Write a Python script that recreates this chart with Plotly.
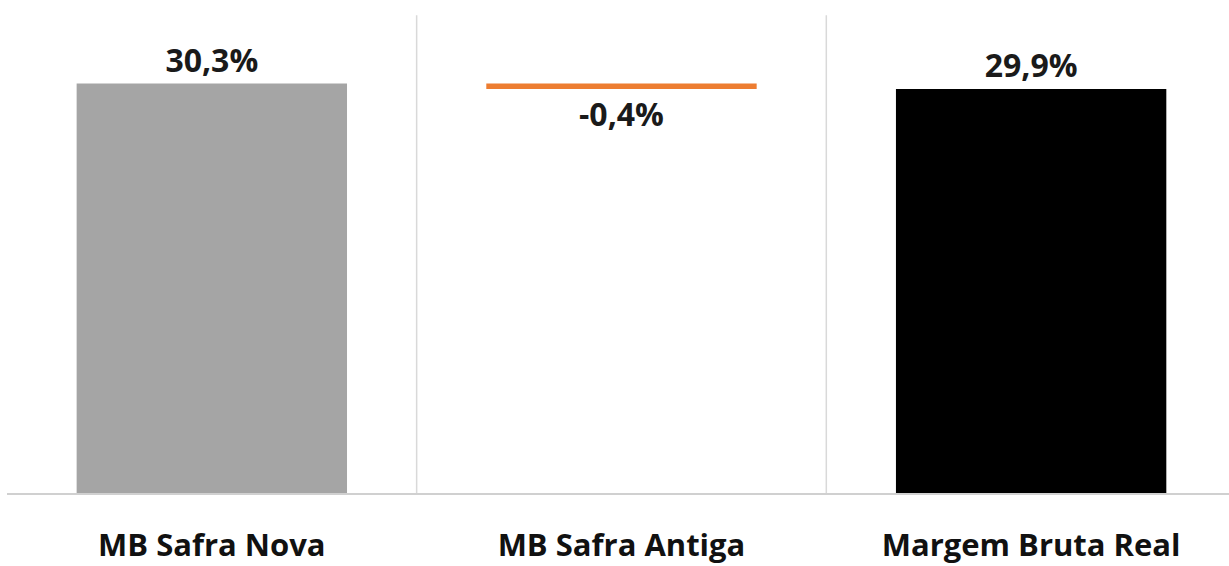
import plotly.graph_objects as go

categories = ["MB Safra Nova", "MB Safra Antiga", "Margem Bruta Real"]
values = [30.3, -0.4, 29.9]
measures = ["relative", "relative", "total"]
labels = ["30,3%", "-0,4%", "29,9%"]

fig = go.Figure(go.Waterfall(
    x=categories, y=values, measure=measures,
    text=labels, textposition="outside",
    textfont=dict(family="Open Sans", size=32, color="#1a1a1a", weight="bold"),
    increasing=dict(marker=dict(color="#a5a5a5")),
    decreasing=dict(marker=dict(color="#ed7d31")),
    totals=dict(marker=dict(color="#000000")),
    connector=dict(visible=False),
    width=0.66, cliponaxis=False,
))

for xv in [0.5, 1.5]:
    fig.add_shape(type="line", xref="x", yref="paper", x0=xv, x1=xv, y0=0, y1=1.01,
                  line=dict(color="#d9d9d9", width=1.5))

fig.update_layout(
    width=1229, height=566,
    margin=dict(l=7, r=0, t=20, b=73),
    paper_bgcolor="white", plot_bgcolor="white",
    showlegend=False,
    font=dict(family="Open Sans", color="#1a1a1a"),
)
fig.update_xaxes(range=[-0.5, 2.483], showline=True, linecolor="#d0d0d0", linewidth=2,
                 showgrid=False, ticks="", ticklabelstandoff=24, automargin=False,
                 tickfont=dict(family="Open Sans", size=31, color="#111111", weight="bold"))
fig.update_yaxes(range=[0, 35], visible=False, showgrid=False, zeroline=False, automargin=False)

fig.write_html("out.html", config={"displayModeBar": False},
               post_script="document.body.style.margin='0';")
